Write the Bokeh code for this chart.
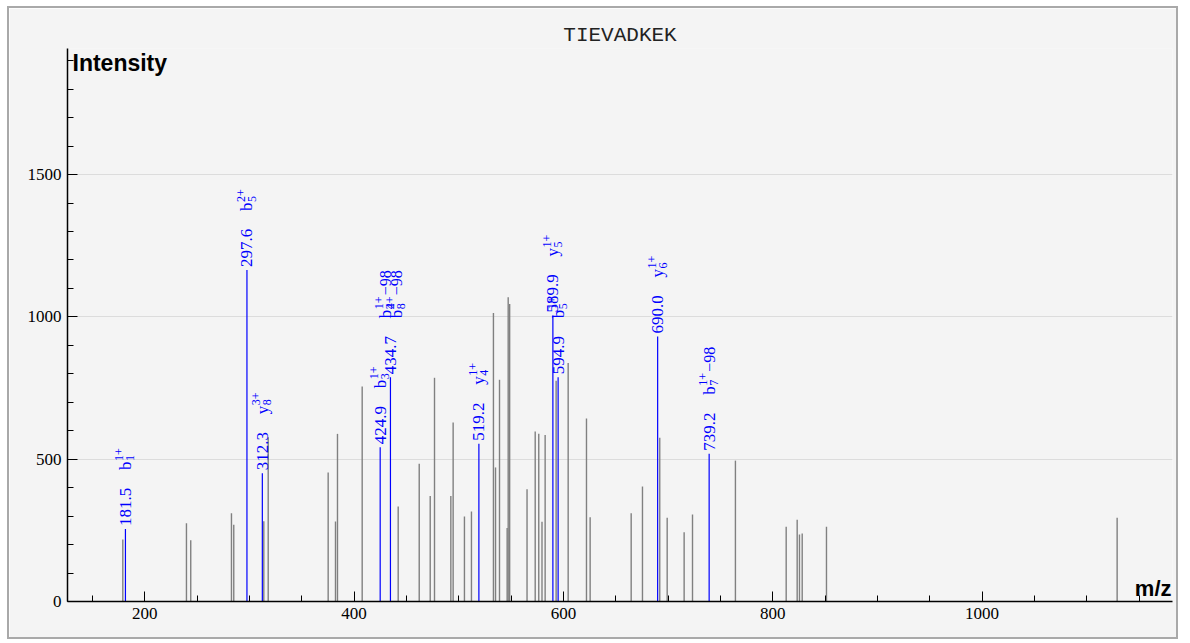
from bokeh.plotting import figure
from bokeh.models import ColumnDataSource, Range1d, Label, SingleIntervalTicker
from bokeh.core.properties import value
from bokeh.embed import file_html
from bokeh.resources import INLINE

title_text = "TIEVADKEK"
y_label_text = "Intensity"
x_label_text = "m/z"

# unannotated (grey) peaks
peak_mz = [179.0, 239.8, 243.9, 282.8, 285.0, 313.7, 317.9, 375.2, 382.2, 384.1,
           407.7, 442.1, 462.2, 472.7, 476.8, 492.4, 494.6, 505.4, 512.1, 533.1,
           535.1, 538.9, 546.2, 547.2, 548.6, 565.2, 573.0, 576.4, 579.5, 582.5,
           593.0, 604.5, 622.0, 625.5, 664.7, 675.5, 692.0, 699.1, 715.3, 723.3,
           764.3, 812.8, 823.3, 825.5, 828.1, 851.3, 1129.0]
peak_int = [218, 275, 215, 310, 270, 282, 577, 453, 281, 589,
            755, 334, 484, 371, 786, 371, 629, 299, 316, 1014,
            471, 779, 258, 1069, 1045, 394, 597, 589, 280, 585,
            776, 838, 643, 296, 310, 404, 575, 294, 243, 306,
            495, 263, 287, 235, 239, 263, 294]

# annotated (blue) peaks
ann_mz = [181.5, 297.6, 312.3, 424.9, 434.7, 519.2, 589.9, 594.9, 690.0, 739.2]
ann_int = [255, 1165, 451, 542, 788, 554, 1005, 788, 931, 519]

# ion labels (one peak may carry several)
ion_peak = [181.5, 297.6, 312.3, 424.9, 434.7, 434.7, 519.2, 589.9, 594.9, 690.0, 739.2]
ion_type = ["b", "b", "y", "b", "b", "b", "y", "y", "b", "y", "b"]
ion_num = ["1", "5", "8", "3", "4", "8", "4", "5", "5", "6", "7"]
ion_charge = ["1+", "2+", "3+", "1+", "1+", "2+", "1+", "1+", "1+", "1+", "1+"]
ion_loss = ["", "", "", "", "\u221298", "\u221298", "", "", "", "", "\u221298"]

x_start, x_end = 126.15, 1181.9
y_start, y_end = 0, 1943

BG = "#f4f4f4"
BLUE = "#0000ff"

p = figure(width=1171, height=633, output_backend="svg", toolbar_location=None,
           x_range=Range1d(x_start, x_end), y_range=Range1d(y_start, y_end),
           min_border_left=58, min_border_right=8, min_border_top=40, min_border_bottom=40)
p.styles = {"border": "2px solid #a9a9a9", "margin": "6px 0px 0px 7px"}
p.background_fill_color = BG
p.border_fill_color = BG
p.outline_line_color = None

p.title.text = title_text
p.title.align = "center"
p.title.text_font = "Liberation Mono"
p.title.text_font_size = "21px"
p.title.text_font_style = "normal"
p.title.text_color = "#222222"
p.title.standoff = 3

xt = SingleIntervalTicker(interval=200, num_minor_ticks=4)
yt = SingleIntervalTicker(interval=500, num_minor_ticks=5)
p.xaxis.ticker = xt
p.yaxis.ticker = yt
p.ygrid.ticker = yt
p.xgrid.visible = False
p.ygrid.grid_line_color = "#dcdcdc"
p.ygrid.grid_line_width = 1

for ax in (p.xaxis[0], p.yaxis[0]):
    ax.axis_line_color = "black"
    ax.axis_line_width = 1.5
    ax.major_tick_in = 10
    ax.major_tick_out = 0
    ax.minor_tick_in = 6
    ax.minor_tick_out = 0
    ax.major_tick_line_color = "black"
    ax.minor_tick_line_color = "black"
    ax.major_label_text_font = "Liberation Serif"
    ax.major_label_text_font_size = "17px"
    ax.major_label_text_color = "black"
    ax.major_label_standoff = 6

# peaks
gsrc = ColumnDataSource(dict(x=peak_mz, y0=[0] * len(peak_mz), y=peak_int))
p.segment(x0="x", y0="y0", x1="x", y1="y", source=gsrc, line_color="#808080", line_width=1.4)

bsrc = ColumnDataSource(dict(x=ann_mz, y0=[0] * len(ann_mz), y=ann_int,
                             t=["%.1f" % m for m in ann_mz]))
p.segment(x0="x", y0="y0", x1="x", y1="y", source=bsrc, line_color=BLUE, line_width=1.2)

ANG = 1.5707963267948966
p.text(x="x", y="y", text="t", source=bsrc, angle=ANG, text_align="left",
       text_baseline="middle", y_offset=-3, text_color=BLUE,
       text_font=value("Liberation Serif"), text_font_size=value("17px"))

# ion labels
int_of = dict(zip(ann_mz, ann_int))
cnt = {}
for m in ion_peak:
    cnt[m] = cnt.get(m, 0) + 1
seen = {}
xs, ys, xo = [], [], []
for m in ion_peak:
    k = seen.get(m, 0)
    seen[m] = k + 1
    xs.append(m)
    ys.append(int_of[m])
    xo.append(0 if cnt[m] == 1 else -5 + 11 * k)

base_off = -59
isrc = ColumnDataSource(dict(
    x=xs, y=ys, letter=ion_type, sub=ion_num, sup=ion_charge, loss=ion_loss,
    xo=xo, xo_sup=[v - 6 for v in xo], xo_sub=[v + 5 for v in xo]))
p.text(x="x", y="y", text="letter", source=isrc, angle=ANG, text_align="left",
       text_baseline="middle", x_offset="xo", y_offset=base_off, text_color=BLUE,
       text_font=value("Liberation Serif"), text_font_size=value("17px"))
p.text(x="x", y="y", text="sup", source=isrc, angle=ANG, text_align="left",
       text_baseline="middle", x_offset="xo_sup", y_offset=base_off - 9, text_color=BLUE,
       text_font=value("Liberation Serif"), text_font_size=value("12px"))
p.text(x="x", y="y", text="sub", source=isrc, angle=ANG, text_align="left",
       text_baseline="middle", x_offset="xo_sub", y_offset=base_off - 9, text_color=BLUE,
       text_font=value("Liberation Serif"), text_font_size=value("12px"))
p.text(x="x", y="y", text="loss", source=isrc, angle=ANG, text_align="left",
       text_baseline="middle", x_offset="xo", y_offset=base_off - 23, text_color=BLUE,
       text_font=value("Liberation Serif"), text_font_size=value("16px"))

p.add_layout(Label(x=x_start, y=y_end, x_offset=5, y_offset=-1, text=y_label_text,
                   text_font="Liberation Sans", text_font_style="bold",
                   text_font_size="23px", text_baseline="top", text_align="left",
                   text_color="black"))
p.add_layout(Label(x=x_end, y=0, x_offset=-1, y_offset=1, text=x_label_text,
                   text_font="Liberation Sans", text_font_style="bold",
                   text_font_size="22px", text_baseline="bottom", text_align="right",
                   text_color="black"))

open("out.html", "w").write(file_html(p, INLINE))
